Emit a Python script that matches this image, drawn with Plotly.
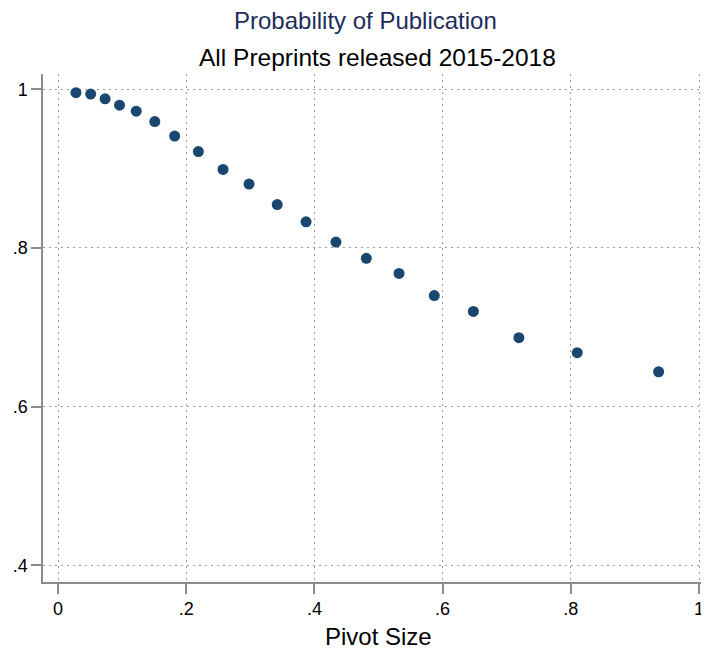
import plotly.graph_objects as go

pivot_size = [0.028, 0.051, 0.0735, 0.096, 0.122, 0.151, 0.182, 0.219, 0.2575, 0.298,
              0.342, 0.387, 0.4336, 0.481, 0.532, 0.587, 0.648, 0.719, 0.810, 0.937]
prob_pub = [0.9957, 0.994, 0.988, 0.980, 0.9725, 0.9594, 0.941, 0.9215, 0.899, 0.8805,
            0.8547, 0.833, 0.8075, 0.787, 0.768, 0.740, 0.720, 0.687, 0.668, 0.644]

x_ticks = [0, 0.2, 0.4, 0.6, 0.8, 1]
x_tick_text = ["0", ".2", ".4", ".6", ".8", "1"]
y_ticks = [0.4, 0.6, 0.8, 1]
y_tick_text = [".4", ".6", ".8", "1"]

title = "Probability of Publication"
subtitle = "All Preprints released 2015-2018"
x_title = "Pivot Size"

FONT = "Liberation Sans"
OFF = 8  # page body margin
W, H = 709 - OFF, 652 - OFF
L, R, T, B = 43 - OFF, 0, 74 - OFF, 652 - 582
PW, PH = W - L - R, H - T - B


def px_to_paper(xp, yp):
    # xp, yp given in window pixels
    return (xp - OFF - L) / PW, (H - B - (yp - OFF)) / PH


fig = go.Figure(go.Scatter(
    x=pivot_size, y=prob_pub, mode="markers",
    marker=dict(color="#1a476f", size=11, line=dict(width=0)),
    showlegend=False, cliponaxis=False,
))

axis_common = dict(
    showline=True, linecolor="#8c8c8c", linewidth=1.5,
    ticks="outside", ticklen=10, tickcolor="#8c8c8c", tickwidth=1.5,
    showgrid=True, gridcolor="#9a9a9a", gridwidth=1, griddash="2px,4px",
    zeroline=False, mirror=False, automargin=False,
    tickfont=dict(family=FONT, size=18, color="#000000"),
)

tx, ty = px_to_paper(365, 21)
sx, sy = px_to_paper(377, 57)
ax_x, ax_y = px_to_paper(378, 636)

fig.update_layout(
    width=W, height=H,
    margin=dict(l=L, r=R, t=T, b=B, autoexpand=False),
    paper_bgcolor="white", plot_bgcolor="white",
    xaxis=dict(range=[-0.0234, 1.0156], tickvals=x_ticks, ticktext=x_tick_text,
               **axis_common),
    yaxis=dict(range=[0.379, 1.0193], tickvals=y_ticks, ticktext=y_tick_text,
               **axis_common),
    annotations=[
        dict(text=title, x=tx, y=ty, xref="paper", yref="paper", xanchor="center", yanchor="middle",
             showarrow=False, borderpad=0, font=dict(family=FONT, size=24, color="#1e2d5a")),
        dict(text=subtitle, x=sx, y=sy, xref="paper", yref="paper", xanchor="center", yanchor="middle",
             showarrow=False, borderpad=0, font=dict(family=FONT, size=24.5, color="#000000")),
        dict(text=x_title, x=ax_x, y=ax_y, xref="paper", yref="paper", xanchor="center", yanchor="middle",
             showarrow=False, borderpad=0, font=dict(family=FONT, size=24, color="#000000")),
    ],
)

fig.write_html("out.html")
